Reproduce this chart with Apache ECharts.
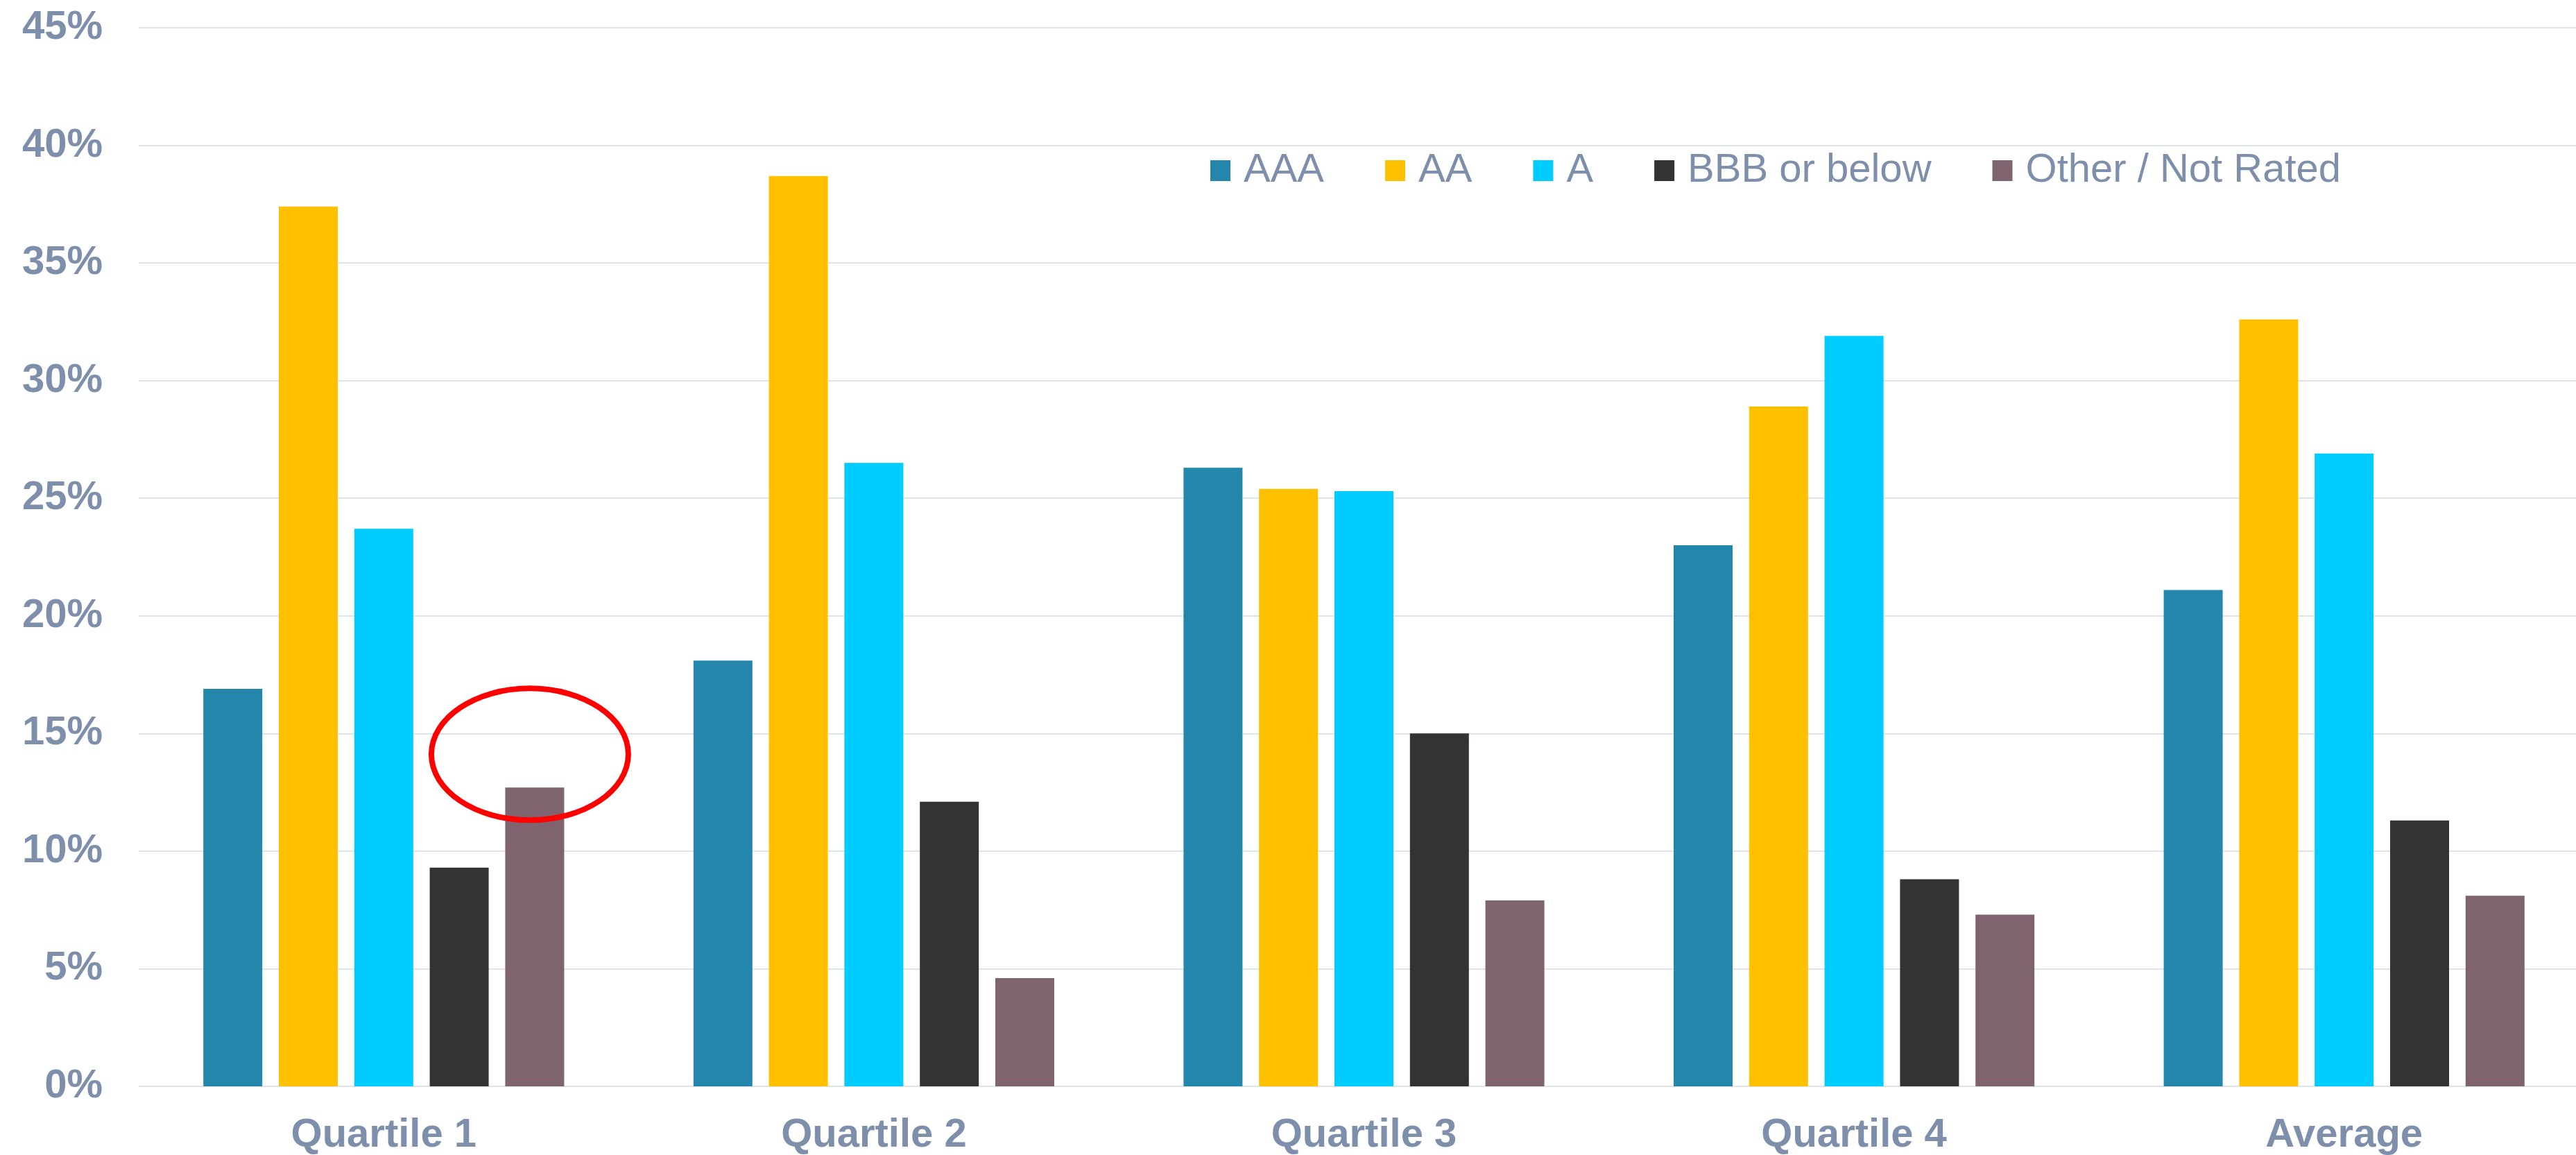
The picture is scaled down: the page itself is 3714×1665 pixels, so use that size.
<!DOCTYPE html>
<html>
<head>
<meta charset="utf-8">
<script src="https://cdn.jsdelivr.net/npm/echarts@6/dist/echarts.min.js"></script>
<style>
  html, body { margin: 0; padding: 0; background: #ffffff; }
  #chart { width: 3714px; height: 1665px; }
</style>
</head>
<body>
<div id="chart"></div>
<script>
// categories and tick labels
const categories = ['Quartile 1', 'Quartile 2', 'Quartile 3', 'Quartile 4', 'Average'];
const yTicks = [0, 5, 10, 15, 20, 25, 30, 35, 40, 45];

// share of holdings by rating (%)
const aaa = [16.9, 18.1, 26.3, 23.0, 21.1];
const aa = [37.4, 38.7, 25.4, 28.9, 32.6];
const singleA = [23.7, 26.5, 25.3, 31.9, 26.9];
const bbb = [9.3, 12.1, 15.0, 8.8, 11.3];
const other = [12.7, 4.6, 7.9, 7.3, 8.1];

const labelColor = '#7D8FAA';
const font = '"Liberation Sans", Arial, sans-serif';

let myChart = echarts.init(document.getElementById('chart'));

function barSeries(name, data, color) {
  return {
    name: name,
    type: 'bar',
    data: data,
    barWidth: 85,
    barGap: '28%',
    itemStyle: { color: color },
  };
}

myChart.setOption({
  backgroundColor: '#ffffff',
  animation: false,
  textStyle: { fontFamily: font },
  legend: {
    left: 1740,
    top: 212,
    itemWidth: 29,
    itemHeight: 30,
    itemGap: 88,
    icon: 'rect',
    textStyle: {
      color: labelColor,
      fontSize: 58,
      fontFamily: font,
      padding: [0, 0, 0, 14],
    },
    data: ['AAA', 'AA', 'A', 'BBB or below', 'Other / Not Rated'],
  },
  grid: {
    left: 200,
    top: 40,
    width: 3533,
    height: 1526,
    containLabel: false,
    outerBoundsMode: 'none',
  },
  xAxis: {
    type: 'category',
    data: categories,
    axisLine: { show: false },
    axisTick: { show: false },
    axisLabel: {
      color: labelColor,
      fontSize: 58,
      fontWeight: 'bold',
      fontFamily: font,
      margin: 42,
    },
  },
  yAxis: {
    type: 'value',
    min: yTicks[0],
    max: yTicks[yTicks.length - 1],
    interval: 5,
    axisLine: { show: false },
    axisTick: { show: false },
    axisLabel: {
      color: labelColor,
      fontSize: 58,
      fontWeight: 'bold',
      fontFamily: font,
      margin: 52,
      formatter: '{value}%',
    },
    splitLine: {
      lineStyle: { color: '#DFE4EB', width: 2 },
    },
  },
  series: [
    barSeries('AAA', aaa, '#2386AA'),
    barSeries('AA', aa, '#FFC000'),
    barSeries('A', singleA, '#00CCFF'),
    barSeries('BBB or below', bbb, '#333333'),
    barSeries('Other / Not Rated', other, '#7F636E'),
  ],
});

// red highlight ring around the Quartile 1 "Other / Not Rated" bar
const layout = myChart.getModel().getSeriesByIndex(4).getData().getItemLayout(0);
const barCenterX = layout.x + layout.width / 2;
const barTopY = Math.min(layout.y, layout.y + layout.height);
myChart.setOption({
  graphic: [
    {
      type: 'ellipse',
      shape: { cx: barCenterX - 7, cy: barTopY - 48, rx: 142, ry: 95 },
      style: { fill: 'none', stroke: '#FF0000', lineWidth: 8 },
      z: 100,
    },
  ],
});

window.addEventListener('resize', () => {
  myChart.resize();
});
</script>
</body>
</html>
